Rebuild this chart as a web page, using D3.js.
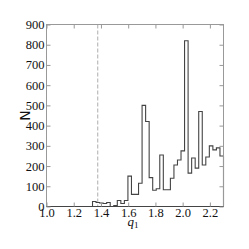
<!DOCTYPE html>
<html>
<head>
<meta charset="utf-8">
<script src="https://cdn.jsdelivr.net/npm/d3@7"></script>
<style>
body { margin: 0; background: #fff; }
</style>
</head>
<body>
<div id="chart"></div>
<script>
// histogram of q1, 37 bins
var binStart = 1.338,
    binWidth = 0.026;
var counts = [25, 20, 17, 15, 20, 0, 5, 30, 15, 30,
              150, 60, 60, 115, 500, 420, 143, 80, 88, 255,
              83, 83, 140, 205, 230, 275, 820, 165, 240, 190,
              470, 205, 245, 300, 280, 290, 250];
var xTicks = [1.0, 1.2, 1.4, 1.6, 1.8, 2.0, 2.2];
var yTicks = [0, 100, 200, 300, 400, 500, 600, 700, 800, 900];
var cutValue = 1.376;

var width = 249,
    height = 249,
    margin = {top: 24.5, right: 25.5, bottom: 42.5, left: 46.5};

var svg = d3.select("#chart")
    .append("svg")
    .attr("width", width)
    .attr("height", height);

var g = svg.append("g")
    .attr("transform", "translate(" + margin.left + "," + margin.top + ")");

var w = width - margin.left - margin.right,
    h = height - margin.top - margin.bottom;

var x = d3.scaleLinear().domain([1.0, 2.3]).range([0, w]);
var y = d3.scaleLinear().domain([0, 900]).range([h, 0]);

// step outline points
var pts = [{x: binStart, y: 0}];
counts.forEach(function(c, i) {
  pts.push({x: binStart + i * binWidth, y: c});
});
pts.push({x: binStart + counts.length * binWidth, y: counts[counts.length - 1]});
pts.push({x: binStart + counts.length * binWidth, y: 0});

var line = d3.line()
    .x(function(d) { return x(d.x); })
    .y(function(d) { return y(d.y); })
    .curve(d3.curveStepAfter);

// dashed marker
g.append("line")
    .attr("x1", x(cutValue)).attr("x2", x(cutValue))
    .attr("y1", 0).attr("y2", h)
    .attr("stroke", "#bbb")
    .attr("stroke-width", 1.2)
    .attr("stroke-dasharray", "4,2");

g.append("path")
    .attr("d", line(pts))
    .attr("fill", "none")
    .attr("stroke", "#444")
    .attr("stroke-width", 1.1);

// frame
g.append("rect")
    .attr("width", w).attr("height", h)
    .attr("fill", "none")
    .attr("stroke", "#999")
    .attr("stroke-width", 1);
g.append("line")
    .attr("x1", 0).attr("x2", w)
    .attr("y1", h).attr("y2", h)
    .attr("stroke", "#444");

// inward ticks on all sides
var tl = 4;
var xAxB = d3.axisBottom(x).tickValues(xTicks).tickSize(-tl).tickPadding(2)
    .tickFormat(d3.format(".1f"));
var xAxT = d3.axisTop(x).tickValues(xTicks).tickSize(-tl).tickFormat("");
var yAxL = d3.axisLeft(y).tickValues(yTicks).tickSize(-tl).tickPadding(2)
    .tickFormat(d3.format("d"));
var yAxR = d3.axisRight(y).tickValues(yTicks).tickSize(-tl).tickFormat("");

function style(sel) {
  sel.select(".domain").remove();
  sel.selectAll(".tick line").attr("stroke", "#999");
  sel.selectAll("text")
    .attr("fill", "#111")
    .style("font-family", "'Liberation Serif', serif")
    .style("font-size", "12.5px");
}

g.append("g").attr("transform", "translate(0," + h + ")").call(xAxB).call(style);
g.append("g").call(xAxT).call(style);
g.append("g").call(yAxL).call(style);
g.append("g").attr("transform", "translate(" + w + ",0)").call(yAxR).call(style);

// axis labels
g.append("text")
    .attr("x", w / 2 - 2)
    .attr("y", h + 19)
    .attr("text-anchor", "middle")
    .style("font-family", "'Liberation Serif', serif")
    .style("font-style", "italic")
    .style("font-size", "13px")
    .attr("fill", "#111")
    .text("q")
    .append("tspan")
    .attr("dy", 2)
    .style("font-style", "normal")
    .style("font-size", "9px")
    .text("1");

g.append("text")
    .attr("transform", "translate(" + (-21) + "," + (h / 2) + ") rotate(-90)")
    .attr("text-anchor", "middle")
    .attr("dy", "0.35em")
    .style("font-family", "'DejaVu Sans', sans-serif")
    .style("font-size", "14px")
    .attr("fill", "#111")
    .text("N");
</script>
</body>
</html>
